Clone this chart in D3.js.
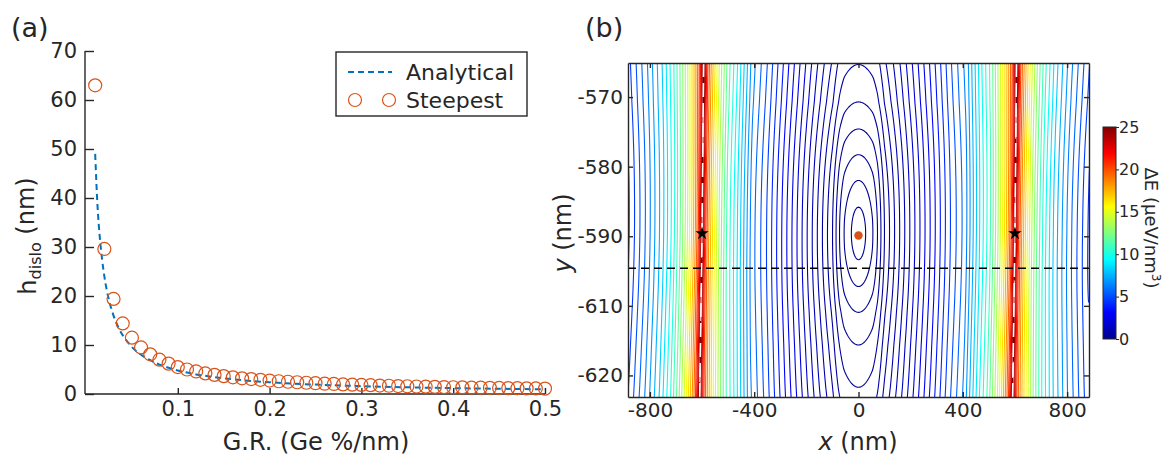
<!DOCTYPE html>
<html>
<head>
<meta charset="utf-8">
<script src="https://cdn.jsdelivr.net/npm/d3@7"></script>
<style>
  body { margin: 0; background: #fff; }
  svg text { font-family: "DejaVu Sans", Verdana, sans-serif; fill: #262626; }
</style>
</head>
<body>
<svg id="fig" width="1167" height="460"></svg>
<script>
// ---------- panel (a) data ----------
var grRate = [0.01,0.02,0.03,0.04,0.05,0.06,0.07,0.08,0.09,0.10,
              0.11,0.12,0.13,0.14,0.15,0.16,0.17,0.18,0.19,0.20,
              0.21,0.22,0.23,0.24,0.25,0.26,0.27,0.28,0.29,0.30,
              0.31,0.32,0.33,0.34,0.35,0.36,0.37,0.38,0.39,0.40,
              0.41,0.42,0.43,0.44,0.45,0.46,0.47,0.48,0.49,0.50];
var hSteepest = [63.0,29.6,19.4,14.4,11.5,9.5,8.1,7.0,6.2,5.5,
                 5.0,4.6,4.2,3.9,3.65,3.4,3.2,3.05,2.9,2.75,
                 2.6,2.5,2.4,2.3,2.2,2.1,2.05,1.95,1.9,1.85,
                 1.8,1.72,1.68,1.62,1.58,1.53,1.5,1.45,1.42,1.38,
                 1.35,1.32,1.29,1.26,1.23,1.2,1.18,1.15,1.13,1.1];
var grAnalytical = [0.01,0.0125,0.015,0.0175,0.02,0.0225,0.025,0.03,0.035,0.04,0.045,0.05,
                    0.06,0.07,0.08,0.09,0.1,0.12,0.14,0.16,0.18,0.2,0.25,0.3,0.35,0.4,0.45,0.5];
var hAnalytical = [49,38.5,32,27.5,24,21.3,19.2,16,13.7,12,10.7,9.6,
                   8,6.9,6.0,5.35,4.8,4.0,3.45,3.0,2.67,2.4,1.92,1.6,1.37,1.2,1.07,0.96];
var aTicksX = [0.1,0.2,0.3,0.4,0.5];
var aTicksY = [0,10,20,30,40,50,60,70];

// ---------- panel (b) data ----------
// sqrt(energy) read along y = -590 (|x| in nm)
var profileX = [0,27.6,55.5,72.7,86,99.5,150,200,250,300,352,410,467,505,540,560,575,585,593,600,
                607,615,625,640,660,684,712,754,811,884];
var profileS = [0,0.119,0.238,0.357,0.476,0.595,0.904,1.21,1.516,1.82,2.14,2.45,3.0,3.32,3.75,4.05,4.3,4.5,4.75,5.03,
                4.75,4.5,4.3,4.05,3.75,3.45,3.15,2.8,2.42,2.0];
// vertical growth of sqrt(energy) away from the dislocation depth
var depthUp = [0,3.8,7.6,11.3,15,18.9,25];
var depthUpS = [0,0.119,0.238,0.357,0.476,0.595,0.73];
var depthDown = [0,3.8,7.6,11.3,16,22.1,25];
var depthDownS = [0,0.119,0.238,0.357,0.476,0.595,0.66];
// slight lateral drift of the ridges with depth (nm)
var shearDy = [-23.5,0,24.5];
var shearNm = [-9,0,6];
var contourLevels = [0.014,0.057,0.128,0.227,0.354,0.510,0.694,0.907,1.148,1.417,
                     1.715,2.041,2.395,2.778,3.189,3.628,4.096,4.592,5.116,5.669,
                     6.250,6.859,7.497,8.163,8.858,9.581,10.33,11.11,11.92,12.76,
                     13.62,14.51,15.43,16.38,17.36,18.37,19.40,20.46,21.56,22.68,
                     23.82,25.0];
var jetStops = [0,3.125,9.375,15.625,21.875,25];
var jetColors = ["#00008f","#0000ff","#00ffff","#ffff00","#ff0000","#800000"];
var bTicksX = [-800,-400,0,400,800];
var bTicksY = [-570,-580,-590,-600,-610];
var bTickLabelsY = ["-570","-580","-590","-610","-620"];
var cbTicks = [0,5,10,15,20,25];
var fieldY0 = -589.6;
var dotXY = [0,-589.9];
var starX = [-600,600];
var starY = -589.6;
var cutY = -594.6;

var svg = d3.select("#fig");
var axisColor = "#262626";

// ================= panel (a) =================
var xA = d3.scaleLinear().domain([0,0.5]).range([86,545]);
var yA = d3.scaleLinear().domain([0,70]).range([394,51]);

var gA = svg.append("g");
var axL = gA.append("g").attr("transform","translate(85,0)")
  .call(d3.axisLeft(yA).tickValues(aTicksY).tickSizeInner(-9).tickSizeOuter(0).tickPadding(8));
var axB = gA.append("g").attr("transform","translate(0,394)")
  .call(d3.axisBottom(xA).tickValues(aTicksX).tickSizeInner(-6).tickSizeOuter(0).tickPadding(7)
        .tickFormat(d3.format(".1f")));
axL.select(".domain").attr("d","M0,51V394");
axB.select(".domain").attr("d","M85,0H545");
[axL, axB].forEach(function(ax) {
  ax.selectAll(".domain,line").attr("stroke",axisColor).attr("stroke-width",1.4);
  ax.selectAll("text").attr("font-size",21).attr("font-family","DejaVu Sans").attr("fill",axisColor);
});

var analyticLine = d3.line()
  .x(function(d,i){ return xA(grAnalytical[i]); })
  .y(function(d){ return yA(d); })
  .curve(d3.curveMonotoneX);
gA.append("path").datum(hAnalytical).attr("d",analyticLine)
  .attr("fill","none").attr("stroke","#0072BD").attr("stroke-width",2).attr("stroke-dasharray","6,4");

gA.selectAll("circle.st").data(hSteepest).enter().append("circle")
  .attr("class","st")
  .attr("cx",function(d,i){ return xA(grRate[i]); })
  .attr("cy",function(d){ return yA(d); })
  .attr("r",6.5).attr("fill","none").attr("stroke","#D95319").attr("stroke-width",1.2);

// legend
var leg = gA.append("g");
leg.append("rect").attr("x",336).attr("y",52).attr("width",191).attr("height",64)
  .attr("fill","#fff").attr("stroke",axisColor).attr("stroke-width",1.4);
leg.append("line").attr("x1",348).attr("x2",392).attr("y1",72).attr("y2",72)
  .attr("stroke","#0072BD").attr("stroke-width",2).attr("stroke-dasharray","6,4");
leg.append("text").attr("x",406).attr("y",80).attr("font-size",22).text("Analytical");
[355,389].forEach(function(cx){
  leg.append("circle").attr("cx",cx).attr("cy",100).attr("r",6.5)
    .attr("fill","none").attr("stroke","#D95319").attr("stroke-width",1.2);
});
leg.append("text").attr("x",406).attr("y",108).attr("font-size",22).text("Steepest");

gA.append("text").attr("x",11).attr("y",37).attr("font-size",27).text("(a)");
gA.append("text").attr("x",316).attr("y",450).attr("text-anchor","middle").attr("font-size",24)
  .text("G.R. (Ge %/nm)");
var yl = gA.append("text").attr("transform","translate(36,236) rotate(-90)")
  .attr("text-anchor","middle").attr("font-size",24);
yl.append("tspan").text("h");
yl.append("tspan").attr("font-size",16).attr("dy","0.3em").text("dislo");
yl.append("tspan").attr("dy","-0.3em").text(" (nm)");

// ================= panel (b) =================
var xB = d3.scaleLinear().domain([-884,884]).range([628,1089]);
var yB = d3.scaleLinear().domain([-565.1,-613.1]).range([63,397]);
var jet = d3.scaleLinear().domain(jetStops).range(jetColors).clamp(true);

var pS = d3.scaleLinear().domain(profileX).range(profileS).clamp(true);
var qUp = d3.scaleLinear().domain(depthUp).range(depthUpS);
var qDown = d3.scaleLinear().domain(depthDown).range(depthDownS);
var shear = d3.scaleLinear().domain(shearDy).range(shearNm);

var gx0 = 624, gy0 = 59, nx = 470, ny = 342;
var values = new Float64Array(nx * ny);
for (var j = 0; j < ny; j++) {
  var yv = yB.invert(gy0 + j + 0.5), dy = yv - fieldY0;
  var q = dy >= 0 ? qUp(dy) : qDown(-dy);
  var sh = shear(dy);
  for (var i = 0; i < nx; i++) {
    var xv = xB.invert(gx0 + i + 0.5);
    var p = pS(Math.abs(xv - sh * Math.min(1, Math.abs(xv) / 600)));
    values[j * nx + i] = p * p + q * q;
  }
}
var contours = d3.contours().size([nx, ny]).thresholds(contourLevels)(values);

svg.append("clipPath").attr("id","clipB").append("rect")
  .attr("x",628).attr("y",63).attr("width",461).attr("height",334);
var gB = svg.append("g");
var plotB = gB.append("g").attr("clip-path","url(#clipB)");
var cPath = d3.geoPath(d3.geoIdentity().translate([gx0, gy0]));
plotB.selectAll("path.ct").data(contours).enter().append("path")
  .attr("class","ct")
  .attr("d",cPath)
  .attr("fill","none")
  .attr("stroke",function(d){ return jet(d.value); })
  .attr("stroke-width",1.1);

// ridge path (white) following the drift, and markers
var ridgeLine = d3.line()
  .x(function(d){ return d[0]; })
  .y(function(d){ return d[1]; });
starX.forEach(function(rx) {
  var pts = [-613.1, fieldY0, -565.1].map(function(yv) {
    return [xB(rx + shear(yv - fieldY0)), yB(yv)];
  });
  plotB.append("path").attr("d", ridgeLine(pts))
    .attr("fill","none").attr("stroke","#fff").attr("stroke-width",1.6).attr("stroke-dasharray","14,6");
});
plotB.append("line").attr("x1",628).attr("x2",1089).attr("y1",yB(cutY)).attr("y2",yB(cutY))
  .attr("stroke","#000").attr("stroke-width",1.6).attr("stroke-dasharray","8,5");
plotB.append("circle").attr("cx",xB(dotXY[0])).attr("cy",yB(dotXY[1])).attr("r",4.2).attr("fill","#D95319");
plotB.selectAll("path.star").data(starX).enter().append("path")
  .attr("class","star")
  .attr("transform",function(d){ return "translate(" + xB(d) + "," + yB(starY) + ")"; })
  .attr("d",d3.symbol(d3.symbolStar).size(55))
  .attr("fill","#000");

// axes of (b)
var bAxes = [
  gB.append("g").attr("transform","translate(0,397)")
    .call(d3.axisBottom(xB).tickValues(bTicksX).tickSizeInner(-5).tickSizeOuter(0).tickPadding(6)),
  gB.append("g").attr("transform","translate(0,63)")
    .call(d3.axisTop(xB).tickValues(bTicksX).tickSizeInner(-5).tickSizeOuter(0).tickFormat("")),
  gB.append("g").attr("transform","translate(628,0)")
    .call(d3.axisLeft(yB).tickValues(bTicksY).tickSizeInner(-5).tickSizeOuter(0).tickPadding(5)
          .tickFormat(function(d,i){ return bTickLabelsY[i]; })),
  gB.append("g").attr("transform","translate(1089,0)")
    .call(d3.axisRight(yB).tickValues(bTicksY).tickSizeInner(-5).tickSizeOuter(0).tickFormat(""))
];
bAxes.forEach(function(ax) {
  ax.selectAll(".domain,line").attr("stroke",axisColor).attr("stroke-width",1.4);
  ax.selectAll("text").attr("font-size",20).attr("font-family","DejaVu Sans").attr("fill",axisColor);
});
bAxes[0].selectAll("text").text(function(d){ return String(d); });

gB.append("text").attr("x",585).attr("y",37).attr("font-size",27).text("(b)");
var xl = gB.append("text").attr("x",858).attr("y",450).attr("text-anchor","middle").attr("font-size",24);
xl.append("tspan").attr("font-style","italic").text("x");
xl.append("tspan").text(" (nm)");
var ylb = gB.append("text").attr("transform","translate(571,233) rotate(-90)")
  .attr("text-anchor","middle").attr("font-size",24);
ylb.append("tspan").attr("font-style","italic").text("y");
ylb.append("tspan").text(" (nm)");

// colorbar
var cbY = d3.scaleLinear().domain([0,25]).range([339,127]);
var grad = svg.append("defs").append("linearGradient").attr("id","jetGrad")
  .attr("x1",0).attr("y1",1).attr("x2",0).attr("y2",0);
grad.selectAll("stop").data(jetStops).enter().append("stop")
  .attr("offset",function(d){ return d / 25; })
  .attr("stop-color",function(d,i){ return jetColors[i]; });
gB.append("rect").attr("x",1103).attr("y",127).attr("width",13).attr("height",212)
  .attr("fill","url(#jetGrad)").attr("stroke",axisColor).attr("stroke-width",1);
var cbAx = gB.append("g").attr("transform","translate(1116,0)")
  .call(d3.axisRight(cbY).tickValues(cbTicks).tickSizeInner(3).tickSizeOuter(0).tickPadding(0));
cbAx.select(".domain").remove();
cbAx.selectAll("line").attr("stroke",axisColor).attr("stroke-width",1);
cbAx.selectAll("text").attr("font-size",16).attr("font-family","DejaVu Sans").attr("fill",axisColor);
var cbl = gB.append("text").attr("transform","translate(1145,228) rotate(90)")
  .attr("text-anchor","middle").attr("font-size",18);
cbl.append("tspan").text("\u0394E (\u03bceV/nm");
cbl.append("tspan").attr("font-size",12).attr("dy","-0.55em").text("3");
cbl.append("tspan").attr("dy","0.35em").text(")");
</script>
</body>
</html>
